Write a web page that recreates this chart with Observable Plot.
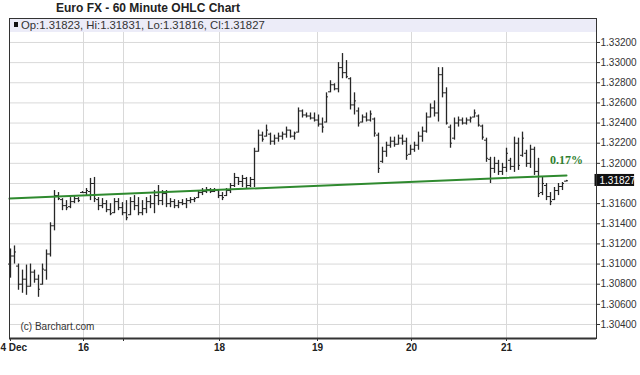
<!DOCTYPE html>
<html><head><meta charset="utf-8">
<script src="https://cdn.jsdelivr.net/npm/d3@7"></script>
<script src="https://cdn.jsdelivr.net/npm/@observablehq/plot@0.6"></script>
<style>
body{margin:0;background:#fff;}
#wrap{position:relative;width:640px;height:375px;}
#title{position:absolute;left:0;top:1px;width:296px;text-align:center;font:bold 12px "Liberation Sans",Arial,sans-serif;color:#222;line-height:14px;}
#chart{position:absolute;left:0;top:0;}
</style></head><body>
<div id="wrap"><div id="chart"></div><div id="title">Euro FX - 60 Minute OHLC Chart</div></div>
<script>
// ---- data (hourly bars, index 0 = first visible bar) ----
const open = [1.3100,1.3108,1.3098,1.3080,1.3085,1.3078,1.3092,1.3085,1.3080,1.3094,
1.3110,1.3138,1.3168,1.3164,1.3158,1.3157,1.3162,1.3165,1.3171,1.3171,
1.3172,1.3180,1.3164,1.3158,1.3160,1.3154,1.3151,1.3162,1.3156,1.3151,
1.3149,1.3162,1.3158,1.3151,1.3155,1.3162,1.3160,1.3168,1.3163,1.3170,
1.3160,1.3162,1.3158,1.3161,1.3160,1.3163,1.3164,1.3166,1.3171,1.3172,
1.3174,1.3172,1.3173,1.3168,1.3168,1.3173,1.3178,1.3186,1.3182,1.3185,
1.3178,1.3184,1.3212,1.3228,1.3227,1.3229,1.3222,1.3225,1.3227,1.3229,
1.3233,1.3227,1.3231,1.3252,1.3248,1.3247,1.3245,1.3243,1.3239,1.3241,
1.3271,1.3278,1.3274,1.3295,1.3290,1.3284,1.3258,1.3252,1.3241,1.3246,
1.3243,1.3244,1.3228,1.3202,1.3212,1.3218,1.3222,1.3219,1.3225,1.3222,
1.3209,1.3214,1.3218,1.3227,1.3232,1.3246,1.3255,1.3250,1.3288,1.3270,
1.3236,1.3225,1.3240,1.3243,1.3240,1.3243,1.3246,1.3247,1.3237,1.3223,
1.3204,1.3195,1.3200,1.3192,1.3196,1.3203,1.3197,1.3220,1.3208,1.3210,
1.3200,1.3214,1.3192,1.3171,1.3178,1.3167,1.3164,1.3173,1.3177,1.31823];
const high = [1.3115,1.3118,1.3100,1.3094,1.3099,1.3100,1.3094,1.3089,1.3100,1.3114,
1.3141,1.3173,1.3171,1.3165,1.3163,1.3166,1.3167,1.3166,1.3172,1.3175,
1.3185,1.3186,1.3166,1.3165,1.3163,1.3160,1.3165,1.3165,1.3161,1.3163,
1.3166,1.3168,1.3166,1.3163,1.3166,1.3168,1.3173,1.3178,1.3173,1.3173,
1.3165,1.3164,1.3163,1.3164,1.3165,1.3166,1.3166,1.3173,1.3175,1.3176,
1.3175,1.3175,1.3173,1.3171,1.3175,1.3180,1.3190,1.3186,1.3188,1.3186,
1.3186,1.3215,1.3233,1.3231,1.3238,1.3230,1.3228,1.3230,1.3231,1.3236,
1.3233,1.3231,1.3255,1.3253,1.3250,1.3250,1.3250,1.3248,1.3245,1.3270,
1.3282,1.3279,1.3300,1.3309,1.3302,1.3285,1.3270,1.3255,1.3248,1.3250,
1.3252,1.3245,1.3230,1.3216,1.3221,1.3226,1.3226,1.3228,1.3228,1.3225,
1.3218,1.3221,1.3231,1.3236,1.3250,1.3259,1.3262,1.3295,1.3295,1.3275,
1.3238,1.3245,1.3246,1.3245,1.3245,1.3246,1.3253,1.3248,1.3238,1.3225,
1.3206,1.3206,1.3203,1.3200,1.3215,1.3205,1.3226,1.3225,1.3231,1.3213,
1.3218,1.3216,1.3205,1.3186,1.3180,1.3171,1.3176,1.3180,1.3181,1.31831];
const low = [1.3086,1.3100,1.3074,1.3071,1.3069,1.3077,1.3081,1.3067,1.3079,1.3084,
1.3107,1.3133,1.3163,1.3153,1.3153,1.3155,1.3160,1.3161,1.3170,1.3168,
1.3163,1.3161,1.3153,1.3155,1.3151,1.3148,1.3150,1.3153,1.3148,1.3143,
1.3148,1.3153,1.3148,1.3148,1.3150,1.3155,1.3150,1.3158,1.3158,1.3156,
1.3156,1.3155,1.3155,1.3158,1.3155,1.3160,1.3161,1.3165,1.3168,1.3170,
1.3170,1.3171,1.3165,1.3163,1.3167,1.3170,1.3176,1.3178,1.3176,1.3175,
1.3176,1.3176,1.3211,1.3221,1.3226,1.3218,1.3218,1.3221,1.3223,1.3225,
1.3225,1.3223,1.3230,1.3245,1.3245,1.3243,1.3241,1.3236,1.3230,1.3240,
1.3270,1.3272,1.3270,1.3284,1.3284,1.3253,1.3248,1.3236,1.3240,1.3241,
1.3241,1.3226,1.3190,1.3200,1.3206,1.3215,1.3216,1.3218,1.3218,1.3203,
1.3208,1.3211,1.3213,1.3221,1.3230,1.3245,1.3246,1.3241,1.3265,1.3238,
1.3215,1.3223,1.3236,1.3238,1.3238,1.3240,1.3245,1.3236,1.3223,1.3201,
1.3180,1.3190,1.3188,1.3188,1.3191,1.3193,1.3191,1.3193,1.3206,1.3196,
1.3195,1.3188,1.3166,1.3168,1.3163,1.3158,1.3163,1.3168,1.3173,1.31816];
const close = [1.3108,1.3112,1.3080,1.3085,1.3078,1.3092,1.3085,1.3075,1.3095,1.3110,
1.3138,1.3168,1.3165,1.3158,1.3156,1.3162,1.3165,1.3163,1.3171,1.3173,
1.3180,1.3165,1.3158,1.3160,1.3154,1.3150,1.3162,1.3156,1.3151,1.3146,
1.3162,1.3158,1.3151,1.3155,1.3162,1.3160,1.3168,1.3163,1.3170,1.3160,
1.3162,1.3158,1.3161,1.3160,1.3163,1.3164,1.3165,1.3171,1.3172,1.3174,
1.3172,1.3173,1.3168,1.3166,1.3173,1.3178,1.3186,1.3182,1.3185,1.3178,
1.3184,1.3212,1.3228,1.3224,1.3233,1.3222,1.3225,1.3227,1.3229,1.3233,
1.3227,1.3230,1.3252,1.3248,1.3247,1.3245,1.3243,1.3239,1.3236,1.3266,
1.3278,1.3274,1.3295,1.3290,1.3286,1.3258,1.3262,1.3240,1.3246,1.3243,
1.3249,1.3230,1.3195,1.3212,1.3218,1.3222,1.3219,1.3225,1.3222,1.3208,
1.3214,1.3218,1.3227,1.3232,1.3246,1.3255,1.3250,1.3288,1.3270,1.3240,
1.3220,1.3240,1.3243,1.3240,1.3243,1.3245,1.3250,1.3238,1.3226,1.3205,
1.3195,1.3200,1.3192,1.3196,1.3210,1.3197,1.3220,1.3198,1.3225,1.3200,
1.3214,1.3192,1.3170,1.3180,1.3167,1.3162,1.3173,1.3177,1.3180,1.31827];

const dayTickIndex = [0, 18.25, 28.25, 52.25, 76.75, 100.25, 124];
const dayTickLabels = ["4 Dec", "16", "", "18", "19", "20", "21"];
const priceTicks = [1.304,1.306,1.308,1.310,1.312,1.314,1.316,1.320,1.322,1.324,1.326,1.328,1.330,1.332];
const gridLevels = [1.304,1.306,1.308,1.310,1.312,1.314,1.316,1.318,1.320,1.322,1.324,1.326,1.328,1.330,1.332];
const trendIndex = [-0.25, 139];
const trendValue = [1.3165, 1.3188];
const trendLabel = "0.17%";

(function () {
const bars = open.map((o, i) => ({i, o, h: high[i], l: low[i], c: close[i]}));
const trend = trendIndex.map((i, k) => ({i, v: trendValue[k]}));
const labelMap = new Map(dayTickIndex.map((d, k) => [d, dayTickLabels[k]]));
const last = bars.length - 1;
const lastClose = close[last];
const fontFam = '"Liberation Sans", Arial, sans-serif';
const barColor = "#262626";
const fmt = d3.format(".5f");

const chart = Plot.plot({
  width: 640, height: 375,
  marginLeft: 9, marginRight: 44, marginTop: 18, marginBottom: 37,
  style: {fontFamily: fontFam, fontSize: "10px", color: "#333", background: "transparent"},
  x: {domain: [-0.25, 146.5], ticks: dayTickIndex, tickFormat: d => labelMap.get(d), tickSize: 3, tickPadding: 2, label: null},
  y: {domain: [1.30261, 1.33438], axis: "right", ticks: priceTicks, tickFormat: fmt, tickSize: 3, tickPadding: 1, label: null},
  marks: [
    Plot.ruleY(gridLevels, {stroke: "#d9d9d9"}),
    Plot.ruleX(dayTickIndex.slice(1), {stroke: "#d9d9d9"}),
    Plot.ruleX(bars, {x: "i", y1: "l", y2: "h", stroke: barColor, strokeWidth: 1.3}),
    Plot.ruleY(bars, {y: "o", x1: d => d.i - 0.5, x2: "i", stroke: barColor}),
    Plot.ruleY(bars, {y: "c", x1: "i", x2: d => d.i + 0.5, stroke: barColor}),
    Plot.line(trend, {x: "i", y: "v", stroke: "#2f8a2f", strokeWidth: 2}),
    Plot.text([trend[1]], {x: "i", y: "v", text: () => trendLabel, dy: -15, fill: "#2f7f2f", fontWeight: "bold", fontFamily: '"Liberation Serif", serif', fontSize: 12}),
    Plot.text(["(c) Barchart.com"], {frameAnchor: "bottom-left", dx: 11, dy: -9, textAnchor: "start", fill: "#333"}),
    Plot.text([lastClose], {y: d => d, text: d => fmt(d), frameAnchor: "right", dx: 3, textAnchor: "start", fill: "white", fontSize: 10}),
    Plot.frame({stroke: "#333"}),
    Plot.ruleY([1.30261], {stroke: "#333", strokeWidth: 2})
  ]
});
document.getElementById("chart").appendChild(chart);

const svg = d3.select(chart);
svg.selectAll('g[aria-label^="x-axis"]').attr("font-weight", "bold").attr("fill", "#222");
// first day label sits against the left edge, like the original
const xlab = svg.selectAll("text").filter(function () { return this.textContent === dayTickLabels[0]; });
xlab.attr("text-anchor", "start").attr("dx", -10);

const xr = chart.scale("x").range, yr = chart.scale("y").range;
const frameTop = Math.min(...yr), frameLeft = Math.min(...xr), frameRight = Math.max(...xr);
const hdr = svg.append("g").attr("text-anchor", "start");
hdr.append("rect").attr("x", frameLeft).attr("y", frameTop).attr("width", frameRight - frameLeft).attr("height", 14).attr("fill", "#ececf8");
hdr.append("rect").attr("x", frameLeft + 5).attr("y", frameTop + 4).attr("width", 4).attr("height", 5).attr("fill", "#111");
hdr.append("text").attr("x", frameLeft + 12).attr("y", frameTop + 10.5).attr("fill", "#333").attr("font-size", 11.3).attr("text-anchor", "start")
  .text(`Op:${fmt(open[last])}, Hi:${fmt(high[last])}, Lo:${fmt(low[last])}, Cl:${fmt(close[last])}`);
svg.select('[aria-label="frame"]').raise();
// black box behind last price label
svg.selectAll("text").filter(function () {
  if (this.textContent !== fmt(lastClose)) return false;
  const f = this.getAttribute("fill") || (this.parentNode && this.parentNode.getAttribute("fill"));
  return f === "white";
}).each(function () {
  const b = this.getBBox();
  const g = this.parentNode;
  d3.select(g.parentNode).insert("rect", () => g)
    .attr("x", b.x - 1.5).attr("y", b.y - 0.5).attr("width", b.width + 3).attr("height", b.height + 1).attr("fill", "#111")
    .attr("transform", this.getAttribute("transform") || null);
});
})();
</script>
</body></html>
